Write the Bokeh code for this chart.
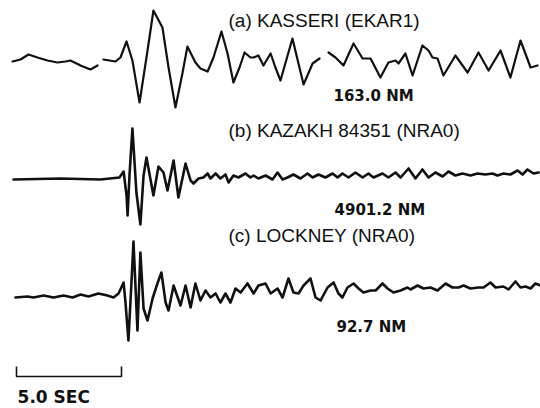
from bokeh.plotting import figure
from bokeh.models import Range1d
from bokeh.core.properties import value
from bokeh.embed import file_html
from bokeh.resources import INLINE

# ---------------- data (time in seconds, relative amplitude) ----------------
# (a) KASSERI (EKAR1) - three recorded segments
a1_t = [-0.19, 0.19, 0.57, 1.00, 1.48, 1.95, 2.33, 2.57, 3.05, 3.52, 3.86]
a1_v = [-1, 1, 6, 3, 0, -2, -1, 0, -5, -9, -5]
a2_t = [4.14, 4.71, 4.95, 5.24, 5.52, 5.86, 6.24, 6.52, 6.95, 7.24, 7.57, 7.90,
        8.14, 8.52, 8.76, 9.10, 9.38, 9.76, 10.05, 10.33, 10.62, 10.86, 11.14,
        11.29, 11.52, 11.76, 12.10, 12.33, 12.57, 13.14, 13.67, 14.10, 14.43]
a2_v = [1, -1, 3, 19, 0, -42, 10, 50, 33, -7, -47, -13,
        14, -2, -8, -11, 3, 29, 7, -22, -7, 8, 3,
        3, 5, -5, 7, -7, -20, 22, -24, -3, 2]
a3_t = [14.86, 15.19, 15.57, 16.05, 16.48, 16.86, 17.33, 17.71, 18.05, 18.19,
        18.52, 18.86, 19.33, 19.62, 19.81, 20.05, 20.33, 20.90, 21.48, 22.00,
        22.48, 23.05, 23.52, 24.00, 24.48, 24.81]
a3_v = [8, 3, -5, 17, 2, 2, -17, -2, 0, -3,
        7, -15, 15, 10, 3, 2, -15, 5, -12, 8,
        -10, 10, -17, 20, -7, -5]

# (b) KAZAKH 84351 (NRA0)
b_t = [-0.14, 2.10, 4.00, 4.90, 5.10, 5.24, 5.29, 5.38, 5.52, 5.71, 5.90, 6.05,
       6.19, 6.52, 6.76, 7.00, 7.19, 7.48, 7.71, 8.05, 8.29, 8.43, 8.67, 8.90,
       9.10, 9.24, 9.48, 9.71, 9.95, 10.10, 10.33, 10.57, 10.90, 11.14, 11.29,
       11.52, 11.86, 12.19, 12.43, 12.67, 12.90, 13.19, 13.52, 13.86, 14.10,
       14.38, 14.71, 15.05, 15.29, 15.52, 15.81, 16.14, 16.48, 16.76, 17.00,
       17.43, 17.71, 18.05, 18.29, 18.67, 19.00, 19.33, 19.62, 19.95, 20.29,
       20.57, 20.90, 21.24, 21.62, 21.95, 22.33, 22.67, 22.90, 23.19, 23.52,
       23.86, 24.10, 24.33, 24.62, 24.86]
b_v = [-1, 0, -1, 1, 7, -17, -37, 3, 50, -14, -46, 3,
       21, -17, 12, 6, -12, 18, -19, 15, -2, -5, 0, 1,
       5, 0, 5, 0, 4, -4, 3, 1, 5, 1, 3,
       0, 3, -1, 6, -1, 1, 4, 0, 5, 1,
       4, 1, 5, 1, 5, 1, 6, 1, 5, 1,
       5, 1, 6, 1, 10, 0, 9, 1, 6, 2,
       7, 3, 5, 3, 5, 4, 5, 3, 5, 4,
       8, 4, 9, 5, 6]

# (c) LOCKNEY (NRA0)
c_t = [-0.05, 0.52, 0.81, 1.29, 1.76, 2.24, 2.67, 3.05, 3.43, 3.90, 4.33, 4.62,
       4.86, 5.10, 5.19, 5.33, 5.48, 5.57, 5.76, 5.90, 6.05, 6.24, 6.48, 6.71,
       6.90, 7.10, 7.24, 7.48, 7.81, 8.05, 8.29, 8.52, 8.76, 9.00, 9.24, 9.48,
       9.71, 9.95, 10.19, 10.43, 10.67, 11.00, 11.29, 11.52, 11.86, 12.10,
       12.43, 12.67, 12.95, 13.19, 13.43, 13.67, 14.00, 14.24, 14.48, 14.81,
       15.10, 15.33, 15.52, 15.76, 16.05, 16.29, 16.52, 16.86, 17.10, 17.43,
       17.67, 17.95, 18.29, 18.62, 18.76, 19.10, 19.38, 19.71, 20.05, 20.43,
       20.76, 21.05, 21.29, 21.62, 22.00, 22.24, 22.57, 22.81, 23.19, 23.43,
       23.76, 24.00, 24.24, 24.48, 24.71, 24.95]
c_v = [-4, -3, -4, -2, -4, -2, -4, -1, -3, 0, -2, -4,
       0, 11, -9, -47, 13, 52, -37, 41, -15, -27, -5, 10,
       21, -9, -17, 8, -12, 8, -14, 10, -7, 3, -4, 0,
       -9, 0, -9, 5, 1, 10, 0, 8, 10, 0,
       5, -4, 15, 1, 0, 8, 15, -4, -7, 6,
       11, 0, -4, 6, 10, 5, 1, 3, 3, 10,
       5, 1, 3, 6, 4, 8, 5, 6, 3, 10,
       6, 6, 8, 5, 6, 6, 11, 6, 7, 4,
       12, 6, 7, 5, 10, 8]

titles = ["(a) KASSERI (EKAR1)", "(b) KAZAKH 84351 (NRA0)", "(c) LOCKNEY (NRA0)"]
amps = ["163.0 NM", "4901.2 NM", "92.7 NM"]
scale_sec = 5.0
scale_label = "5.0 SEC"

# ---------------- layout ----------------
W, H = 540, 408
PX_PER_SEC = 21.0
X0 = 16.0
p = figure(width=W, height=H, output_backend="svg", toolbar_location=None,
           x_range=Range1d(-X0 / PX_PER_SEC, (W - X0) / PX_PER_SEC),
           y_range=Range1d(-H, 0), min_border=0, background_fill_color="white",
           border_fill_color="white")
p.axis.visible = False
p.grid.visible = False
p.outline_line_color = None

base = [-60, -178, -293]
ink = "#111111"

for t, v in [(a1_t, a1_v), (a2_t, a2_v), (a3_t, a3_v)]:
    p.line(t, [base[0] + x for x in v], line_color=ink, line_width=2.2,
           line_join="round", line_cap="round")
p.line(b_t, [base[1] + x for x in b_v], line_color=ink, line_width=2.6,
       line_join="round", line_cap="round")
p.line(c_t, [base[2] + x for x in c_v], line_color=ink, line_width=2.6,
       line_join="round", line_cap="round")

# scale bar
p.line([0, 0, scale_sec, scale_sec], [-366, -376, -376, -366], line_color=ink,
       line_width=1.6)

tx = 212 / PX_PER_SEC
nx = 317 / PX_PER_SEC
p.text(x=[tx, tx, tx], y=[-20, -130, -235], text=titles,
       text_font=value("Liberation Sans"), text_font_size="19px",
       text_baseline="middle", text_align="left", text_color=ink)
p.text(x=[nx, nx + 0.05, nx + 0.14], y=[-95, -209, -326], text=amps,
       text_font=value("DejaVu Sans"), text_font_style="bold",
       text_font_size="15px", text_baseline="middle", text_align="left",
       text_color=ink)
p.text(x=[0.05], y=[-396], text=[scale_label], text_font=value("DejaVu Sans"),
       text_font_style="bold", text_font_size="17px", text_baseline="middle",
       text_align="left", text_color=ink)

open("out.html", "w").write(file_html(p, INLINE))
